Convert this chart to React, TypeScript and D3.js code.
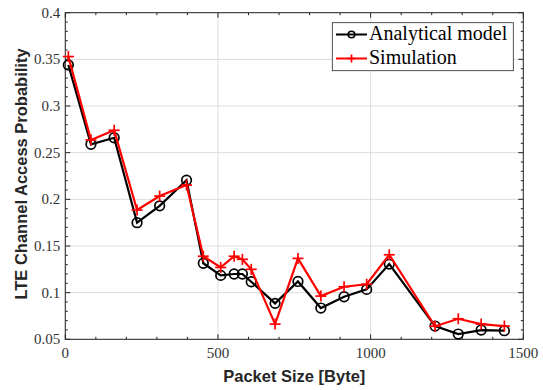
import React from "react";
import * as d3 from "d3";

const packetSizes = [10, 84, 160, 235, 309, 397, 452, 509, 553, 580, 609, 687, 762, 837, 913, 987, 1061, 1211, 1287, 1362, 1438];
const analytical = [0.344, 0.259, 0.266, 0.175, 0.193, 0.2205, 0.1315, 0.1185, 0.120, 0.120, 0.1117, 0.0885, 0.112, 0.0835, 0.0956, 0.1035, 0.1306, 0.0642, 0.0556, 0.0599, 0.0592];
const simulation = [0.353, 0.2636, 0.274, 0.1885, 0.2035, 0.2153, 0.139, 0.127, 0.139, 0.1357, 0.125, 0.0663, 0.1367, 0.0963, 0.1063, 0.109, 0.1406, 0.064, 0.072, 0.0663, 0.0642];
const xTicks = [0, 500, 1000, 1500];
const yTicks = [0.05, 0.1, 0.15, 0.2, 0.25, 0.3, 0.35, 0.4];
const yTickLabels = ["0.05", "0.1", "0.15", "0.2", "0.25", "0.3", "0.35", "0.4"];
const legendLabels = ["Analytical model", "Simulation"];

export default function App() {
  const W = 543, H = 390;
  const L = 65.3, R = 523.3, T = 12.7, B = 339.3;
  const x = d3.scaleLinear().domain([0, 1500]).range([L, R]);
  const y = d3.scaleLinear().domain([0.05, 0.4]).range([B, T]);
  const xMinor = d3.range(0, 1501, 100).filter((v) => v % 500 !== 0);
  const yMinor = d3.range(5, 41, 1).map((v) => v / 100).filter((v) => Math.round(v * 100) % 5 !== 0);
  const line = d3.line<number>().x((_, i) => x(packetSizes[i])).y((d) => y(d));
  const axisColor = "#262626";
  const serif = "'Liberation Serif', 'Times New Roman', serif";
  const sans = "'Liberation Sans', Arial, sans-serif";
  const cross = (cx: number, cy: number, s: number, key: any) => (
    <g key={key} stroke="#ff0000" strokeWidth={1.7}>
      <line x1={cx - s} x2={cx + s} y1={cy} y2={cy} />
      <line x1={cx} x2={cx} y1={cy - s} y2={cy + s} />
    </g>
  );
  return (
    <svg width={W} height={H} style={{ position: "absolute", left: 0, top: 0, background: "#fff" }}>
      <rect x={0} y={0} width={W} height={H} fill="#fff" />
      {/* grid */}
      {xTicks.map((t) => (
        <line key={"gx" + t} x1={x(t)} x2={x(t)} y1={T} y2={B} stroke="#dcdcdc" strokeWidth={1} />
      ))}
      {yTicks.map((t) => (
        <line key={"gy" + t} x1={L} x2={R} y1={y(t)} y2={y(t)} stroke="#dcdcdc" strokeWidth={1} />
      ))}
      {/* ticks */}
      <g stroke={axisColor} strokeWidth={1}>
        {xTicks.map((t) => (
          <g key={"tx" + t}>
            <line x1={x(t)} x2={x(t)} y1={B} y2={B - 5} />
            <line x1={x(t)} x2={x(t)} y1={T} y2={T + 5} />
          </g>
        ))}
        {xMinor.map((t) => (
          <g key={"mx" + t}>
            <line x1={x(t)} x2={x(t)} y1={B} y2={B - 2.5} />
            <line x1={x(t)} x2={x(t)} y1={T} y2={T + 2.5} />
          </g>
        ))}
        {yTicks.map((t) => (
          <g key={"ty" + t}>
            <line x1={L} x2={L + 5} y1={y(t)} y2={y(t)} />
            <line x1={R} x2={R - 5} y1={y(t)} y2={y(t)} />
          </g>
        ))}
        {yMinor.map((t) => (
          <g key={"my" + t}>
            <line x1={L} x2={L + 2.5} y1={y(t)} y2={y(t)} />
            <line x1={R} x2={R - 2.5} y1={y(t)} y2={y(t)} />
          </g>
        ))}
      </g>
      <rect x={L} y={T} width={R - L} height={B - T} fill="none" stroke={axisColor} strokeWidth={1} />
      {/* tick labels */}
      {xTicks.map((t) => (
        <text key={"lx" + t} x={x(t)} y={B + 19} textAnchor="middle" fontFamily={serif} fontSize={15} fill="#333">
          {t}
        </text>
      ))}
      {yTicks.map((t, i) => (
        <text key={"ly" + t} x={L - 5} y={y(t) + 5} textAnchor="end" fontFamily={serif} fontSize={15} fill="#333">
          {yTickLabels[i]}
        </text>
      ))}
      {/* axis labels */}
      <text x={(L + R) / 2} y={381.5} textAnchor="middle" fontFamily={sans} fontWeight="bold" fontSize={16.5} fill="#262626">
        Packet Size [Byte]
      </text>
      <text transform={`translate(27, ${(T + B) / 2 - 2}) rotate(-90)`} textAnchor="middle" fontFamily={sans} fontWeight="bold" fontSize={16.5} fill="#262626">
        LTE Channel Access Probability
      </text>
      {/* series */}
      <path d={line(analytical) || ""} fill="none" stroke="#000" strokeWidth={2.2} />
      {analytical.map((v, i) => (
        <circle key={"c" + i} cx={x(packetSizes[i])} cy={y(v)} r={4.8} fill="none" stroke="#000" strokeWidth={1.7} />
      ))}
      <path d={line(simulation) || ""} fill="none" stroke="#ff0000" strokeWidth={2.2} />
      {simulation.map((v, i) => cross(x(packetSizes[i]), y(v), 5.5, "s" + i))}
      {/* legend */}
      <g>
        <rect x={332.3} y={22.7} width={181} height={48} fill="#fff" stroke={axisColor} strokeWidth={0.8} />
        <line x1={336} x2={367} y1={34.5} y2={34.5} stroke="#000" strokeWidth={2} />
        <circle cx={351.5} cy={34.5} r={3.3} fill="none" stroke="#000" strokeWidth={1.6} />
        <text x={369} y={40} fontFamily={serif} fontSize={20} fill="#000">{legendLabels[0]}</text>
        <line x1={336} x2={367} y1={58.5} y2={58.5} stroke="#ff0000" strokeWidth={2} />
        {cross(351.5, 58.5, 4, "lc")}
        <text x={369} y={64} fontFamily={serif} fontSize={20} fill="#000">{legendLabels[1]}</text>
      </g>
    </svg>
  );
}
